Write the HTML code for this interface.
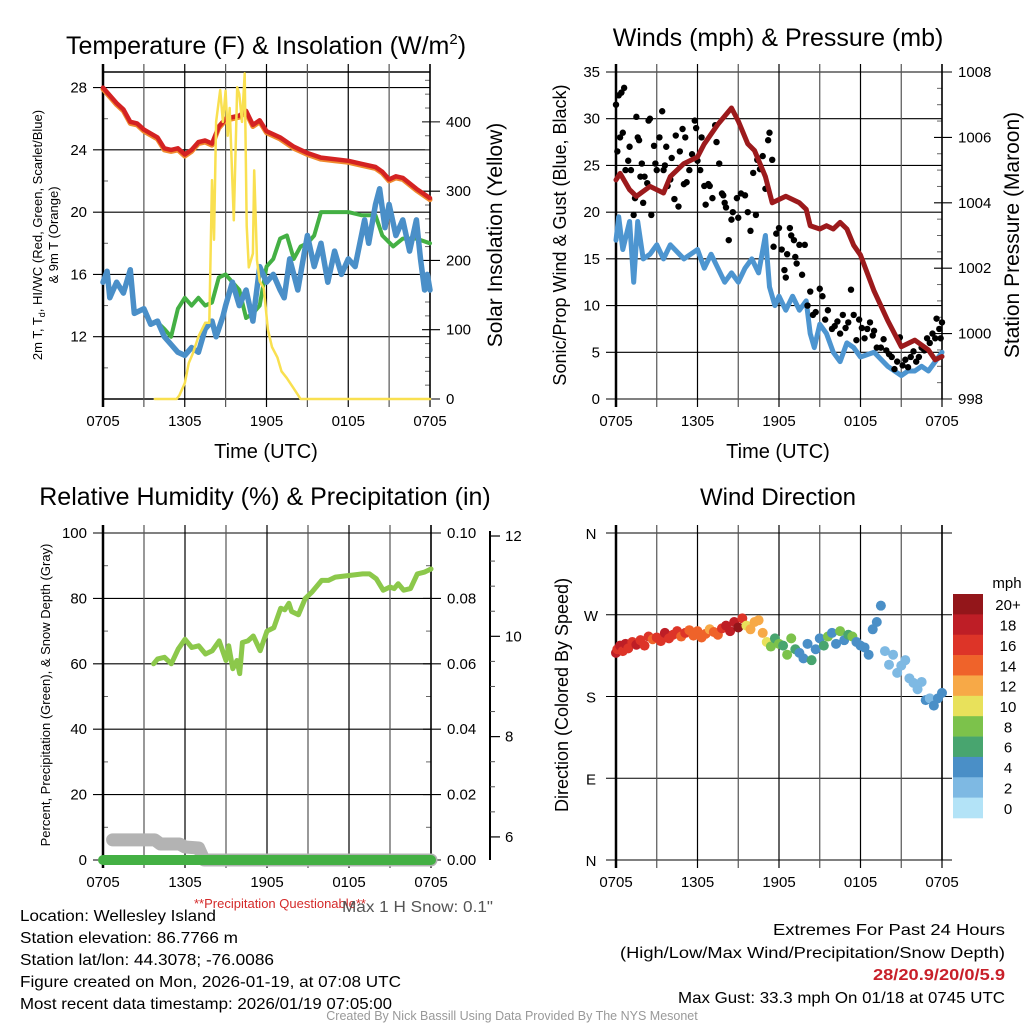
<!DOCTYPE html>
<html><head><meta charset="utf-8"><title>Mesonet Meteogram</title>
<style>
html,body{margin:0;padding:0;background:#fff;}
svg{display:block;font-family:"Liberation Sans",sans-serif;}
</style></head>
<body>
<svg id="c" width="1024" height="1024" viewBox="0 0 1024 1024" xmlns="http://www.w3.org/2000/svg">
<rect width="1024" height="1024" fill="#fff"/>
<g id="p1"></g>
<g id="p2"></g>
<g id="p3"></g>
<g id="p4"></g>
<text x="266" y="54" font-size="25" text-anchor="middle">Temperature (F) &amp; Insolation (W/m<tspan font-size="15" dy="-10">2</tspan><tspan dy="10">)</tspan></text>
<text x="778" y="46" font-size="25" text-anchor="middle">Winds (mph) &amp; Pressure (mb)</text>
<text x="265" y="505" font-size="25" text-anchor="middle">Relative Humidity (%) &amp; Precipitation (in)</text>
<text x="778" y="505" font-size="24" text-anchor="middle">Wind Direction</text>
<text x="266" y="458" font-size="20" text-anchor="middle">Time (UTC)</text>
<text x="778" y="458" font-size="20" text-anchor="middle">Time (UTC)</text>
<text transform="translate(42,235) rotate(-90)" font-size="13" text-anchor="middle">2m T, T<tspan font-size="9" dy="3">d</tspan><tspan dy="-3">, HI/WC (Red, Green, Scarlet/Blue)</tspan></text>
<text transform="translate(58,235) rotate(-90)" font-size="13" text-anchor="middle">&amp; 9m T (Orange)</text>
<text transform="translate(502,235) rotate(-90)" font-size="21" text-anchor="middle">Solar Insolation (Yellow)</text>
<text transform="translate(566,235) rotate(-90)" font-size="18" text-anchor="middle">Sonic/Prop Wind &amp; Gust (Blue, Black)</text>
<text transform="translate(1019,235) rotate(-90)" font-size="21" text-anchor="middle">Station Pressure (Maroon)</text>
<text transform="translate(50,695) rotate(-90)" font-size="13" text-anchor="middle">Percent, Precipitation (Green), &amp; Snow Depth (Gray)</text>
<text transform="translate(568,695) rotate(-90)" font-size="18" text-anchor="middle">Direction (Colored By Speed)</text>
<text x="280" y="908" font-size="13" fill="#d42a2a" text-anchor="middle">**Precipitation Questionable**</text>
<text x="342" y="912" font-size="16" fill="#555" textLength="151" lengthAdjust="spacingAndGlyphs">Max 1 H Snow: 0.1"</text>
<g font-size="16">
<text x="20" y="921" textLength="196" lengthAdjust="spacingAndGlyphs">Location: Wellesley Island</text>
<text x="20" y="943" textLength="218" lengthAdjust="spacingAndGlyphs">Station elevation: 86.7766 m</text>
<text x="20" y="965" textLength="254" lengthAdjust="spacingAndGlyphs">Station lat/lon: 44.3078; -76.0086</text>
<text x="20" y="987" textLength="381" lengthAdjust="spacingAndGlyphs">Figure created on Mon, 2026-01-19, at 07:08 UTC</text>
<text x="20" y="1009" textLength="372" lengthAdjust="spacingAndGlyphs">Most recent data timestamp: 2026/01/19 07:05:00</text>
<text x="773" y="935" textLength="232" lengthAdjust="spacingAndGlyphs">Extremes For Past 24 Hours</text>
<text x="620" y="958" textLength="385" lengthAdjust="spacingAndGlyphs">(High/Low/Max Wind/Precipitation/Snow Depth)</text>
<text x="873" y="980" fill="#c8202a" font-weight="bold" textLength="132" lengthAdjust="spacingAndGlyphs">28/20.9/20/0/5.9</text>
<text x="678" y="1003" textLength="327" lengthAdjust="spacingAndGlyphs">Max Gust: 33.3 mph On 01/18 at 0745 UTC</text>
</g>
<text x="512" y="1020" font-size="12.5" fill="#999" text-anchor="middle">Created By Nick Bassill Using Data Provided By The NYS Mesonet</text>
</svg>
<script>
// ---------- data ----------
const xTicks = ["0705","1305","1905","0105","0705"];
const tempH = [0,0.5,1,1.5,2,2.5,3,4,4.5,5,5.5,6,6.5,7,7.5,8,8.5,9,10,10.5,11,11.5,12,13,14,15,16,17,18,19,20,20.5,21,21.5,22,23,24];
const tempV = [28,27.5,27,26.6,25.8,25.7,25.3,24.8,24.1,24,24.1,23.7,24,24.5,24.6,24.4,25.5,26,26.2,26.5,25.6,25.9,25.2,24.8,24.2,23.8,23.5,23.4,23.3,23.1,22.9,22.6,22.1,22.3,22.2,21.5,20.9];
const dewH = [3.9,4.5,5,5.5,6,6.5,7,7.5,8,8.5,9,9.5,10,10.5,11,11.5,12,12.5,13,13.5,14,14.5,15,15.5,16,17,18,19,20,20.5,21.3,22,23,24];
const dewV = [13,12.5,12,13.8,14.5,14,14.5,14,14.2,15.8,16,15.5,15,13.2,13.5,14,16.5,17,18.3,18.5,17,17.8,18,18.5,20,20,20,19.8,19.8,18.5,17.8,18.3,18.3,18];
const wcH = [0,0.3,0.5,1,1.5,2,2.3,3,3.5,4,4.5,5,5.5,6,6.5,7,7.5,8,8.3,8.8,9,9.5,10,10.5,11,11.5,12,12.5,13,13.3,13.7,14,14.3,14.8,15,15.5,16,16.5,17,17.5,18,18.5,19.2,19.5,20,20.3,20.7,21,21.5,22,22.5,23,23.3,23.6,23.8,24];
const wcV = [15.5,16.2,14.5,15.5,14.8,16.3,13.5,13.8,12.8,13,12,11.5,11,10.8,11.3,11,12.5,13,12,13.3,14,15.5,14,15,13,16.5,15.5,16,15,14.5,17,16,15,17.5,18.5,16.5,18,15.5,17.5,16,17,16.5,19.5,18,20.5,21.5,19,20.5,18.5,19.5,17.5,19.5,17,15,16,15];
const solarH = [3.8,5.4,5.6,6.0,6.3,6.6,7.0,7.5,7.8,8.0,8.15,8.3,8.6,8.8,9.0,9.15,9.3,9.6,9.85,10.0,10.2,10.4,10.55,10.7,11.0,11.1,11.3,11.5,11.8,12.1,12.4,12.8,13.1,13.5,14,14.5,24];
const solarV = [0,0,5,23,52,66,90,110,110,316,230,400,446,400,445,380,420,258,450,440,400,470,250,190,210,330,200,170,160,100,75,60,40,30,15,0,0];
const windH = [0,0.2,0.5,1,1.3,1.6,2,2.5,3,3.5,4,5,6,6.5,7,7.5,8,8.5,9,9.5,10,10.5,11,11.3,11.7,12,12.5,13,13.5,14,14.3,14.6,15,15.5,16,16.5,17,17.5,18,19,20,20.5,21,21.5,22,22.5,23,23.5,24];
const windV = [17,19.5,16,19,12.5,19,15,15.5,16.5,15,16.5,15,16,14,15.5,14,12.5,13.5,12.5,14,15,13.5,17.5,12,10,11,9.5,11,9.5,10.5,7,5.5,8,7,5,4,6,5.5,4.5,5,3.5,3,2.5,3,3,3.5,3,4,5];
const presH = [0,0.3,1,1.5,2.5,3.5,4,5,6,6.5,7.5,8.5,9,9.7,10.2,11,11.5,12,12.5,13,13.5,14,14.3,15,15.5,16,16.5,17,17.5,18,19,20,21,22,23,23.5,24];
const presV = [1004.7,1004.9,1004.4,1004.2,1004.5,1004.3,1004.8,1005.2,1005.4,1005.8,1006.4,1006.9,1006.5,1005.8,1005.6,1004.8,1004,1004.1,1004.2,1004.1,1004,1003.8,1003.3,1003.2,1003.3,1003.2,1003.4,1003.2,1002.7,1002.4,1001.3,1000.4,999.6,999.8,999.5,999.2,999.3];
const gustH = [0,0.2,0.4,0.6,0.1,0.3,0.5,0.7,0.9,1.0,1.1,1.3,1.4,1.5,1.6,1.7,1.8,1.9,2.0,2.1,2.3,2.4,2.5,2.6,2.8,2.9,3.0,3.2,3.4,3.5,3.6,3.7,3.8,4.0,4.1,4.3,4.4,4.6,4.7,4.9,5.0,5.1,5.2,5.4,5.6,5.8,5.9,6.0,6.2,6.3,6.5,6.6,6.8,6.9,7.1,7.3,7.4,7.6,7.8,7.9,8.0,8.1,8.3,8.5,8.6,8.9,9.0,9.2,9.5,9.7,9.9,10.1,10.3,10.4,10.6,10.8,11.0,11.2,11.3,11.5,11.6,11.8,12.0,12.2,12.4,12.5,12.6,12.8,12.9,13.1,13.2,13.3,13.5,13.7,13.9,14.1,14.3,14.5,14.7,15.0,15.2,15.4,15.6,15.9,16.1,16.3,16.5,16.7,16.9,17.1,17.3,17.5,17.7,17.9,18.1,18.3,18.5,18.7,18.9,19.0,19.2,19.5,19.7,19.9,20.1,20.3,20.5,20.7,20.9,21.1,21.3,21.5,21.7,21.9,22.1,22.3,22.5,22.7,22.9,23.1,23.3,23.5,23.6,23.8,24.0,23.9];
const gustV = [31.5,32.5,32.8,33.3,26.5,28,28.5,24.5,25.5,27,24.5,19.7,21.5,30.2,28,27.7,23.8,25.2,21,23.8,23.1,29.8,30,19.7,27.1,25.2,24.5,28,30.8,24.5,25,27,22.8,23.5,25.8,21.4,28.2,20.6,26.5,28.9,23,28,23.2,24.5,26.2,29.8,29,25.5,24.5,28,22.8,20.8,23,22.8,21.5,29.3,27.5,25.2,22,21.8,21,20.5,17,19.2,20,21.5,19.4,22,21.8,20,18,24.2,19.7,25.6,24.6,26,22.5,27.7,28.5,25.6,16.3,17.7,18.3,16,13.8,13,15.5,18.3,17.5,17,15.2,14.5,16.5,13.3,16.5,10,11.5,9,9.3,11.8,11,8.5,9.5,7.5,7.8,8.3,7,9,7.6,8.2,11.7,9,6.3,8.5,7.6,6.5,7.5,8.2,6.8,7.3,5.5,5.5,6.4,5.2,4.8,4.5,3.2,4,6.6,3.6,4.2,3.4,4.5,5.1,4,4.5,5.5,5.2,6.5,6,7,6.5,8.6,7.5,8.2,6.5];
const rhH = [3.7,4.0,4.5,5.0,5.5,6.0,6.5,7.0,7.5,8.0,8.5,9.0,9.2,9.5,9.8,10.0,10.2,10.6,11.0,11.5,12.0,12.5,13.0,13.3,13.6,13.8,14.3,14.8,15.3,16.0,16.5,17.0,18.0,19.0,19.5,20.0,20.5,21.0,21.3,21.6,22.0,22.5,23.0,23.5,24.0];
const rhV = [60,61.5,62,60,64.5,67.5,65,65.5,63,64,67,61,65.5,58.5,61,57,66.5,67,68.5,64,70,71,77,76.5,78.5,76,75,80,82,85.5,85.5,86.5,87,87.5,87.5,86,82.5,83.5,83,84.5,82.5,83,87.5,88,89];
const precipH = [0,24];
const precipV = [0,0];
const snowH = [0.7,3.8,4.2,5.6,6.0,7.0,7.4,24];
const snowV = [5.94,5.94,5.86,5.86,5.8,5.78,5.54,5.54];
const dirH = [0,0.1,0.3,0.5,0.7,0.9,1.2,1.5,1.8,2.1,2.4,2.7,3.0,3.3,3.6,3.9,4.2,4.5,4.8,5.1,5.4,5.7,6.0,6.3,6.6,6.9,7.2,7.5,7.8,8.1,8.4,8.7,9.0,9.3,9.6,9.9,10.2,10.5,10.8,11.1,11.4,11.7,12.0,12.3,12.6,12.9,13.2,13.5,13.8,14.1,14.4,14.7,15.0,15.3,15.6,15.9,16.2,16.5,16.8,17.1,17.4,17.7,18.0,18.3,18.6,18.9,19.2,19.5,19.8,20.1,20.4,20.7,21.0,21.3,21.6,21.9,22.2,22.5,22.8,23.1,23.4,23.7,24.0];
const dirV = [228,232,236,230,238,233,240,237,242,236,246,243,245,241,250,244,248,252,246,250,253,247,252,245,249,254,251,248,255,258,252,262,256,266,258,254,262,264,250,240,235,244,238,236,226,244,232,228,222,238,220,232,244,236,246,250,238,252,242,248,246,240,236,234,226,254,262,280,230,215,226,206,214,220,200,195,188,196,176,178,170,178,184];
const dirS = [17,16,18,16,17,15,16,17,16,15,16,14,16,15,17,16,15,16,14,15,13,14,13,14,13,12,14,13,16,17,18,17,19,16,10,11,12,12,11,10,8,6,7,6,7,8,6,4,4,4,5,4,4,6,7,4,4,7,4,6,7,4,4,4,4,4,4,4,2,2,2,2,2,2,2,2,2,2,3,2,4,4,4];
const speedLevels = ["0","2","4","6","8","10","12","14","16","18","20+"];
const speedColors = ["#b3e3f7","#7eb9e3","#4a8fc7","#48a56f","#7cc24b","#e8e15b","#f7a947","#ef632a","#dd3428","#be1e26","#93161a"];

// ---------- helpers ----------
const NS="http://www.w3.org/2000/svg";
function mk(parent,tag,attrs){const e=document.createElementNS(NS,tag);for(const k in attrs)e.setAttribute(k,attrs[k]);parent.appendChild(e);return e;}
function lin(d0,d1,r0,r1){return v=>r0+(v-d0)*(r1-r0)/(d1-d0);}
function pathOf(hs,vs,sx,sy){return hs.map((h,i)=>(i?"L":"M")+sx(h).toFixed(1)+","+sy(vs[i]).toFixed(1)).join("");}

function frame(g,x0,x1,y0,y1){
  const sx=lin(0,24,x0,x1);
  for(let h=0;h<=24;h+=3){
    const l=mk(g,"line",{x1:sx(h),x2:sx(h),y1:y0-8,y2:y1+8,stroke:(h%6?"#555":"#000"),"stroke-width":(h===0?2.5:1.2)});
    
    
  }
  xTicks.forEach((t,i)=>{
    const tx=mk(g,"text",{x:sx(i*6),y:y1+27,"font-size":15,"text-anchor":"middle"});
    tx.textContent=t;
    
    
  });
  const b=mk(g,"line",{x1:x1,x2:x1,y1:y0-8,y2:y1,stroke:"#000","stroke-width":1.5});
  
  
  return sx;
}
function yAxis(g,x0,x1,sy,ticks,minor,fmt,side){
  ticks.forEach(v=>{
    const l=mk(g,"line",{x1:(side==="left"?x0-10:x1-8),x2:(side==="left"?x1:x1+10),y1:sy(v),y2:sy(v),stroke:"#000","stroke-width":1.1});
    
    
    const t=mk(g,"text",{x:(side==="left"?x0-16:x1+16),y:sy(v)+5,"font-size":15,"text-anchor":(side==="left"?"end":"start")});
    t.textContent=fmt(v);
    
    
  });
  minor.forEach(v=>{
    const xx=side==="left"?x0:x1;
    const l=mk(g,"line",{x1:xx,x2:(side==="left"?xx+5:xx-5),y1:sy(v),y2:sy(v),stroke:"#666","stroke-width":1});
    
    
  });
}
function line(g,hs,vs,sx,sy,color,w,name){
  const p=mk(g,"path",{d:pathOf(hs,vs,sx,sy),fill:"none",stroke:color,"stroke-width":w,"stroke-linejoin":"round","stroke-linecap":"round"});
  
  
}

// ---------- panel 1 ----------
(function(){
  const g=document.getElementById("p1");
  const x0=103,x1=430,y0=72,y1=399;
  const sy=lin(8,29,y1,y0), sr=lin(0,472,y1,y0);
  mk(g,"line",{x1:x0,x2:x1,y1:y0,y2:y0,stroke:"#000","stroke-width":1.5});
  mk(g,"line",{x1:x0,x2:x1,y1:y1,y2:y1,stroke:"#000","stroke-width":1.5});
  yAxis(g,x0,x1,sy,[12,16,20,24,28],[10,14,18,22,26],v=>v,"left");
  yAxis(g,x0,x1,sr,[0,100,200,300,400],[20,40,60,80,120,140,160,180,220,240,260,280,320,340,360,380,420,440,460],v=>v,"right");
  const sx=frame(g,x0,x1,y0,y1);
  line(g,tempH,tempV.map(v=>v-0.1),sx,sy,"#f08a2e",5,"9m-temperature-line");
  line(g,tempH,tempV,sx,sy,"#d42222",4.5,"temperature-line");
  line(g,dewH,dewV,sx,sy,"#44b044",4,"dewpoint-line");
  line(g,wcH,wcV,sx,sy,"#4a8fc8",5.5,"wind-chill-line");
  line(g,solarH,solarV,sx,sr,"#f9e050",2.5,"solar-line");
})();

// ---------- panel 2 ----------
(function(){
  const g=document.getElementById("p2");
  const x0=616,x1=942,y0=72,y1=399;
  const sy=lin(0,35,y1,y0), sp=lin(998,1008,y1,y0);
  yAxis(g,x0,x1,sy,[0,5,10,15,20,25,30,35],[],v=>v,"left");
  yAxis(g,x0,x1,sp,[998,1000,1002,1004,1006,1008],[998.5,999,999.5,1000.5,1001,1001.5,1002.5,1003,1003.5,1004.5,1005,1005.5,1006.5,1007,1007.5],v=>v,"right");
  const sx=frame(g,x0,x1,y0,y1);
  line(g,windH,windV,sx,sy,"#4d95d0",5,"sustained-wind-line");
  gustH.forEach((h,i)=>{
    const c=mk(g,"circle",{cx:sx(h),cy:sy(gustV[i]),r:3.2,fill:"#000"});
    
    
  });
  line(g,presH,presV,sx,sp,"#9c1a1c",5,"pressure-line");
})();

// ---------- panel 3 ----------
(function(){
  const g=document.getElementById("p3");
  const x0=103,x1=431,y0=533,y1=860;
  const sy=lin(0,100,y1,y0), sp=lin(0,0.1,y1,y0), ss=lin(5.54,12.06,y1,y0);
  yAxis(g,x0,x1,sy,[0,20,40,60,80,100],[10,30,50,70,90],v=>v,"left");
  yAxis(g,x0,x1,sp,[0,0.02,0.04,0.06,0.08,0.1],[0.01,0.03,0.05,0.07,0.09],v=>v.toFixed(2),"right");
  const sx=frame(g,x0,x1,y0,y1);
  const ax=mk(g,"line",{x1:490,x2:490,y1:ss(12.06)-2,y2:y1,stroke:"#000","stroke-width":2});
  
  
  [6,8,10,12].forEach(v=>{
    const l=mk(g,"line",{x1:490,x2:500,y1:ss(v),y2:ss(v),stroke:"#000","stroke-width":1.2});
    
    
    const t=mk(g,"text",{x:505,y:ss(v)+5,"font-size":15});
    t.textContent=v;
    
    
  });
  [6.5,7,7.5,8.5,9,9.5,10.5,11,11.5].forEach(v=>{
    const l=mk(g,"line",{x1:490,x2:495,y1:ss(v),y2:ss(v),stroke:"#555","stroke-width":1});
    
    
  });
  line(g,snowH,snowV,sx,ss,"#b3b3b3",13,"snow-depth-line");
  line(g,precipH,precipV,sx,sp,"#44b044",10,"precipitation-line");
  line(g,rhH,rhV,sx,sy,"#8cc84b",5,"humidity-line");
})();

// ---------- panel 4 ----------
(function(){
  const g=document.getElementById("p4");
  const x0=616,x1=942,y0=533,y1=860;
  const sy=lin(0,360,y1,y0);
  ["N","E","S","W","N"].forEach((lab,i)=>{
    const v=i*90;
    const l=mk(g,"line",{x1:x0-10,x2:x1+10,y1:sy(v),y2:sy(v),stroke:"#000","stroke-width":1.1});
    
    
    const t=mk(g,"text",{x:591,y:sy(v)+6,"font-size":15,"text-anchor":"middle"});
    t.textContent=lab;
    
    
  });
  const sx=frame(g,x0,x1,y0,y1);
  function colorFor(s){const k=Math.min(10,Math.max(0,Math.round(s/2)));return speedColors[k];}
  dirH.forEach((h,i)=>{
    const c=mk(g,"circle",{cx:sx(h),cy:sy(dirV[i]),r:5,fill:colorFor(dirS[i])});
    
    
  });
  const cb=mk(g,"g",{});
  
  
  const top=594,bh=(818-594)/11;
  speedLevels.forEach((lab,i)=>{
    const k=10-i;
    const r=mk(cb,"rect",{x:953,y:top+i*bh,width:30,height:bh+0.3,fill:speedColors[k]});
    
    
    const t=mk(cb,"text",{x:1008,y:top+i*bh+bh/2+6,"font-size":15,"text-anchor":"middle"});
    t.textContent=speedLevels[k];
    
    
  });
  const u=mk(cb,"text",{x:1007,y:588,"font-size":15,"text-anchor":"middle"});
  u.textContent="mph";
  
  
})();
</script>
</body></html>
